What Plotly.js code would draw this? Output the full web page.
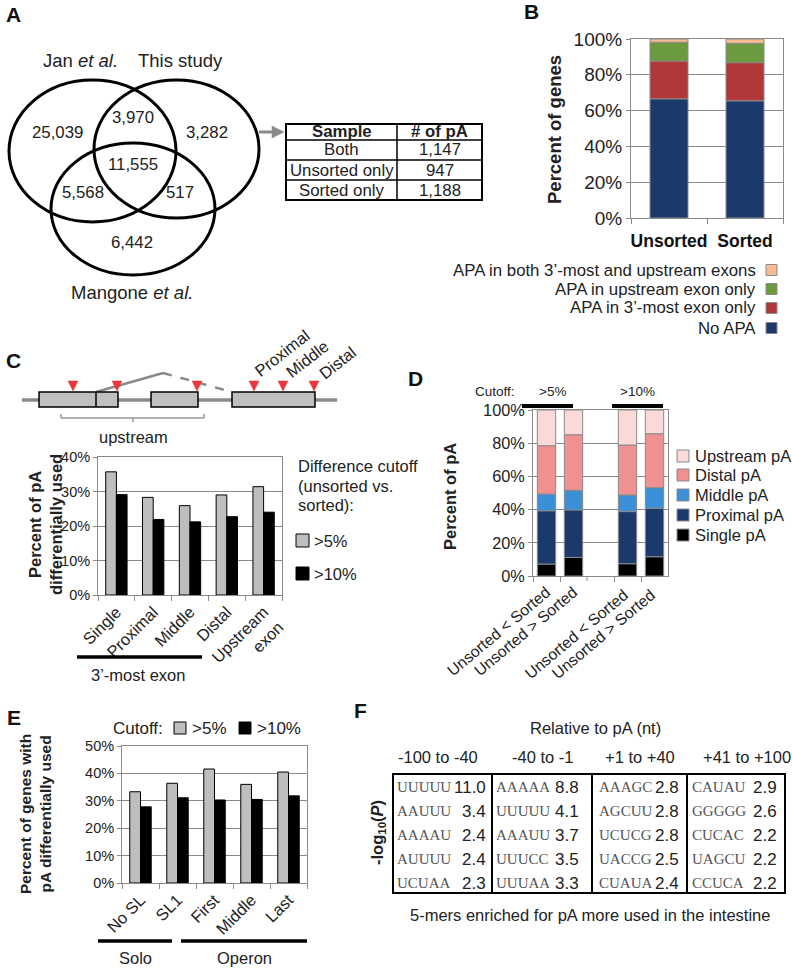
<!DOCTYPE html>
<html><head><meta charset="utf-8">
<script src="https://cdn.plot.ly/plotly-3.0.1.min.js"></script>
<style>html,body{margin:0;padding:0;background:#fff}#chart{width:792px;height:968px}</style>
</head><body><div id="chart"></div>
<script>
// ================= DATA =================
// Panel A – Venn diagram and table
const vennSetLabels = ['Jan <i>et al.</i>', 'This study', 'Mangone <i>et al.</i>'];
const vennRegionCounts = ['25,039', '3,970', '3,282', '11,555', '5,568', '517', '6,442'];
const tableAHeader = ['Sample', '# of pA'];
const tableASamples = ['Both', 'Unsorted only', 'Sorted only'];
const tableACounts = ['1,147', '947', '1,188'];

// Panel B – percent of genes (stacked)
const bCategories = ['Unsorted', 'Sorted'];
const bSeriesNames = ['No APA', 'APA in 3’-most exon only', 'APA in upstream exon only', 'APA in both 3’-most and upstream exons'];
const bNoAPA = [66.6, 65.5];
const b3MostOnly = [21.1, 21.3];
const bUpstreamOnly = [10.5, 10.8];
const bBoth = [1.8, 2.4];

// Panel C – percent of pA differentially used
const cCategories = ['Single', 'Proximal', 'Middle', 'Distal', 'Upstream<br>exon'];
const cSeriesNames = ['>5%', '>10%'];
const cGt5 = [35.7, 28.3, 25.9, 29.0, 31.4];
const cGt10 = [29.1, 21.9, 21.2, 22.7, 24.0];

// Panel D – percent of pA (stacked)
const dCategories = ['Unsorted &lt; Sorted', 'Unsorted &gt; Sorted', 'gap', 'Unsorted &lt; Sorted ', 'Unsorted &gt; Sorted '];
const dBarCategories = [dCategories[0], dCategories[1], dCategories[3], dCategories[4]];
const dSeriesNames = ['Single pA', 'Proximal pA', 'Middle pA', 'Distal pA', 'Upstream pA'];
const dSingle = [7.2, 11.2, 7.4, 11.6];
const dProximal = [32.1, 28.6, 31.4, 29.2];
const dMiddle = [10.1, 11.8, 10.0, 12.4];
const dDistal = [29.1, 33.5, 30.1, 32.5];
const dUpstream = [21.5, 14.9, 21.1, 14.3];
const dCutoffs = ['>5%', '>10%'];

// Panel E – percent of genes with pA differentially used
const eCategories = ['No SL', 'SL1', 'First', 'Middle', 'Last'];
const eGt5 = [33.3, 36.4, 41.6, 36.0, 40.5];
const eGt10 = [27.8, 31.1, 30.3, 30.5, 31.8];
const eGroups = ['Solo', 'Operon'];

// Panel F – enriched 5-mers
const fColumns = ['-100 to -40', '-40 to -1', '+1 to +40', '+41 to +100'];
const fMotifsCol1 = ['UUUUU', 'AAUUU', 'AAAAU', 'AUUUU', 'UCUAA'];
const fScoresCol1 = ['11.0', '3.4', '2.4', '2.4', '2.3'];
const fMotifsCol2 = ['AAAAA', 'UUUUU', 'AAAUU', 'UUUCC', 'UUUAA'];
const fScoresCol2 = ['8.8', '4.1', '3.7', '3.5', '3.3'];
const fMotifsCol3 = ['AAAGC', 'AGCUU', 'UCUCG', 'UACCG', 'CUAUA'];
const fScoresCol3 = ['2.8', '2.8', '2.8', '2.5', '2.4'];
const fMotifsCol4 = ['CAUAU', 'GGGGG', 'CUCAC', 'UAGCU', 'CCUCA'];
const fScoresCol4 = ['2.9', '2.6', '2.2', '2.2', '2.2'];

// ================= HELPERS =================
const W = 792, H = 968;
const X = p => p / W;
const Y = p => 1 - p / H;
const FONT = '"Liberation Sans", Arial, Helvetica, sans-serif';
const SERIF = '"Liberation Serif", "Times New Roman", serif';
const TXT = '#222';
const GRID = '#8a8a8a';

const annotations = [];
const shapes = [];
function txt(text, x, y, size, opts) {
  const a = {xref: 'paper', yref: 'paper', x: X(x), y: Y(y), text: text, showarrow: false,
    xanchor: 'center', yanchor: 'middle', font: {family: FONT, size: size, color: TXT}};
  if (opts) { for (const k in opts) { if (k === 'font') Object.assign(a.font, opts.font); else a[k] = opts[k]; } }
  annotations.push(a);
}
function rect(x0, y0, x1, y1, fill, lc, lw) {
  shapes.push({type: 'rect', xref: 'paper', yref: 'paper', x0: X(x0), x1: X(x1), y0: Y(y1), y1: Y(y0),
    fillcolor: fill, line: {color: lc, width: lw}});
}
function seg(x0, y0, x1, y1, color, w, dash) {
  shapes.push({type: 'line', xref: 'paper', yref: 'paper', x0: X(x0), x1: X(x1), y0: Y(y0), y1: Y(y1),
    line: {color: color, width: w, dash: dash || 'solid'}});
}
function ellipse(x0, y0, x1, y1, color, w) {
  shapes.push({type: 'circle', xref: 'paper', yref: 'paper', x0: X(x0), x1: X(x1), y0: Y(y1), y1: Y(y0),
    line: {color: color, width: w}});
}
function poly(pts, color) {
  shapes.push({type: 'path', xref: 'paper', yref: 'paper',
    path: 'M ' + pts.map(p => X(p[0]) + ' ' + Y(p[1])).join(' L ') + ' Z',
    fillcolor: color, line: {color: color, width: 0.5}});
}
function stackBases(series) {
  const bases = []; let acc = series[0].map(() => 0);
  for (const s of series) { bases.push(acc.slice()); acc = acc.map((v, i) => v + s[i]); }
  return bases;
}
function yAxis(domainPx, range, dtick, size) {
  return {domain: [Y(domainPx[1]), Y(domainPx[0])], range: range, dtick: dtick, ticksuffix: '%',
    showgrid: true, gridcolor: GRID, gridwidth: 1, zeroline: false,
    showline: true, linecolor: GRID, linewidth: 1, mirror: true,
    ticks: 'outside', ticklen: 4, tickcolor: GRID,
    tickfont: {family: FONT, size: size, color: TXT}, fixedrange: true};
}
function xAxis(domainPx, size, angle, extra) {
  const a = {domain: [X(domainPx[0]), X(domainPx[1])], type: 'category', tickson: 'boundaries',
    showgrid: false, zeroline: false, showline: true, linecolor: GRID, linewidth: 1, mirror: true,
    ticks: 'outside', ticklen: 5, tickcolor: GRID, tickangle: angle,
    tickfont: {family: FONT, size: size, color: TXT}, fixedrange: true};
  return Object.assign(a, extra || {});
}

// ================= TRACES =================
const traces = [];

// B
const bColors = ['#1B3A6B', '#B03838', '#6B9B3E', '#F8BC91'];
const bSeries = [bNoAPA, b3MostOnly, bUpstreamOnly, bBoth];
const bBases = stackBases(bSeries);
bSeries.forEach((s, i) => traces.push({type: 'bar', x: bCategories, y: s, base: bBases[i], name: bSeriesNames[i],
  xaxis: 'x', yaxis: 'y', width: 0.5, marker: {color: bColors[i], line: {color: '#8a8a8a', width: 1}},
  showlegend: false, hoverinfo: 'skip'}));

// C
traces.push({type: 'bar', x: cCategories, y: cGt5, name: cSeriesNames[0], xaxis: 'x2', yaxis: 'y2',
  offset: -0.29, width: 0.29, marker: {color: '#BDBEC0', line: {color: '#000', width: 1}}, showlegend: false, hoverinfo: 'skip'});
traces.push({type: 'bar', x: cCategories, y: cGt10, name: cSeriesNames[1], xaxis: 'x2', yaxis: 'y2',
  offset: 0, width: 0.29, marker: {color: '#000', line: {color: '#000', width: 1}}, showlegend: false, hoverinfo: 'skip'});

// D
const dColors = ['#000000', '#1B3A6B', '#3A8FD6', '#F09191', '#FBD9D9'];
const dSeries = [dSingle, dProximal, dMiddle, dDistal, dUpstream];
const dBases = stackBases(dSeries);
dSeries.forEach((s, i) => traces.push({type: 'bar', x: dBarCategories, y: s, base: dBases[i], name: dSeriesNames[i],
  xaxis: 'x3', yaxis: 'y3', width: 0.68, marker: {color: dColors[i], line: {color: '#8a8a8a', width: 1}},
  showlegend: false, hoverinfo: 'skip'}));

// E
traces.push({type: 'bar', x: eCategories, y: eGt5, name: '>5%', xaxis: 'x4', yaxis: 'y4',
  offset: -0.29, width: 0.29, marker: {color: '#BDBEC0', line: {color: '#000', width: 1}}, showlegend: false, hoverinfo: 'skip'});
traces.push({type: 'bar', x: eCategories, y: eGt10, name: '>10%', xaxis: 'x4', yaxis: 'y4',
  offset: 0, width: 0.29, marker: {color: '#000', line: {color: '#000', width: 1}}, showlegend: false, hoverinfo: 'skip'});

// ================= ANNOTATIONS / SHAPES =================
// panel letters
[['A', 13, 14], ['B', 531, 12], ['C', 13, 360], ['D', 415, 378], ['E', 14, 717], ['F', 360, 710]]
  .forEach(l => txt('<b>' + l[0] + '</b>', l[1], l[2], 21, {font: {color: '#111'}}));

// --- A: Venn ---
const vennCircles = [[9, 80, 176, 222], [94, 80, 259, 218], [51, 143, 215, 275]];
vennCircles.forEach(c => ellipse(c[0], c[1], c[2], c[3], '#000', 3));
const vennLabelPos = [[80, 60], [180, 60], [132, 293]];
vennSetLabels.forEach((t, i) => txt(t, vennLabelPos[i][0], vennLabelPos[i][1], 18.5));
const vennCountPos = [[57, 133], [133, 117], [207, 133], [133, 164], [83, 192], [180, 192], [132, 243]];
vennRegionCounts.forEach((t, i) => txt(t, vennCountPos[i][0], vennCountPos[i][1], 16.8));
// arrow
seg(259, 132, 274, 132, '#8a8a8a', 3);
poly([[272, 126], [284, 132], [272, 138]], '#8a8a8a');
// table A
rect(286, 124, 482, 200, 'rgba(0,0,0,0)', '#000', 2);
[140, 160, 180].forEach(y => seg(286, y, 482, y, '#000', 1.5));
seg(397, 124, 397, 200, '#000', 1.5);
txt('<b>' + tableAHeader[0] + '</b>', 341.5, 131, 16.8);
txt('<b>' + tableAHeader[1] + '</b>', 439.5, 131, 16.8);
tableASamples.forEach((t, i) => txt(t, 341.5, 150 + 20 * i, 16.8));
tableACounts.forEach((t, i) => txt(t, 439.5, 150 + 20 * i, 16.8));

// --- B ---
txt('<b>Percent of genes</b>', 555, 130, 18.5, {textangle: -90});
const bLegendY = [328, 308, 289, 270];
bSeriesNames.forEach((n, i) => {
  txt(n, 758, bLegendY[i], 16.8, {xanchor: 'right'});
  rect(766, bLegendY[i] - 5.5, 777, bLegendY[i] + 5.5, bColors[i], '#8a8a8a', 1);
});

// --- C diagram ---
seg(22, 400, 337, 400, '#8a8a8a', 3.5);
seg(96, 392, 163, 373, '#8a8a8a', 2.5);
seg(163, 373, 232, 392, '#8a8a8a', 2.5, 'dash');
rect(39, 392, 118, 407, '#BEBFC1', '#000', 1.5);
seg(96, 392, 96, 407, '#000', 1.5);
rect(151, 392, 198, 407, '#BEBFC1', '#000', 1.5);
rect(232, 392, 315, 407, '#BEBFC1', '#000', 1.5);
[73, 117, 197, 254, 283, 314].forEach(x => poly([[x - 5, 381], [x + 5, 381], [x, 391]], '#E8383D'));
seg(61, 418, 204, 418, '#999', 1.5);
seg(61, 414, 61, 418, '#999', 1.5);
seg(204, 414, 204, 418, '#999', 1.5);
seg(133, 418, 133, 422, '#999', 1.5);
txt('upstream', 133, 437, 16.5);
txt('Proximal', 282, 353, 16.5, {textangle: -38});
txt('Middle', 307, 359, 16.5, {textangle: -38});
txt('Distal', 337, 363, 16.5, {textangle: -38});
// C axis title + legend + group
txt('<b>Percent of pA<br>differentially used</b>', 45, 525, 16.5, {textangle: -90});
txt('Difference cutoff', 296, 466, 16.5, {xanchor: 'left'});
txt('(unsorted vs.', 296, 486, 16.5, {xanchor: 'left'});
txt('sorted):', 296, 505, 16.5, {xanchor: 'left'});
rect(296, 534, 309, 547, '#BDBEC0', '#000', 1);
txt(cSeriesNames[0], 312, 541, 16.5, {xanchor: 'left'});
rect(296, 567, 309, 580, '#000', '#000', 1);
txt(cSeriesNames[1], 312, 574, 16.5, {xanchor: 'left'});
seg(77, 657, 202, 657, '#000', 3.5);
txt('3’-most exon', 138, 675, 16.5);

// --- D ---
txt('<b>Percent of pA</b>', 450, 497, 16.5, {textangle: -90});
txt('Cutoff:', 495, 391, 13.5);
txt(dCutoffs[0], 552, 391, 13.5);
txt(dCutoffs[1], 637, 391, 13.5);
seg(522, 406, 573, 406, '#000', 4);
seg(612, 406, 663, 406, '#000', 4);
// boundary tick between the ">5%" columns and the empty gap (tickvals skip the gap category)
shapes.push({type: 'line', xref: 'x3', yref: 'paper', x0: 1.5, x1: 1.5, y0: Y(576), y1: Y(581),
  line: {color: GRID, width: 1}});
const dLegendY = [535, 515, 495, 475, 456];
dSeriesNames.forEach((n, i) => {
  rect(677, dLegendY[i] - 6, 689, dLegendY[i] + 6, dColors[i], '#8a8a8a', 1);
  txt(n, 693, dLegendY[i], 16.5, {xanchor: 'left'});
});

// --- E ---
txt('<b>Percent of genes with<br>pA differentially used</b>', 35, 814, 15.5, {textangle: -90});
txt('Cutoff:', 138, 728, 17);
rect(174, 722, 186, 734, '#BDBEC0', '#000', 1);
txt('>5%', 190, 728, 17, {xanchor: 'left'});
rect(239, 722, 251, 734, '#000', '#000', 1);
txt('>10%', 255, 728, 17, {xanchor: 'left'});
seg(98, 941, 172, 941, '#000', 3.5);
seg(181, 941, 307, 941, '#000', 3.5);
txt(eGroups[0], 135, 958, 16.5);
txt(eGroups[1], 244, 958, 16.5);

// --- F ---
txt('Relative to pA (nt)', 595, 728, 16.5);
const fHeadX = [438, 542, 640, 747];
fColumns.forEach((c, i) => txt(c, fHeadX[i], 757, 16.5));
rect(393, 774, 785, 893, 'rgba(0,0,0,0)', '#000', 2);
[492, 592, 687].forEach(x => seg(x, 774, x, 893, '#000', 2));
const fMotifs = [fMotifsCol1, fMotifsCol2, fMotifsCol3, fMotifsCol4];
const fScores = [fScoresCol1, fScoresCol2, fScoresCol3, fScoresCol4];
const fMotifX = [395, 494, 597, 690];
const fScoreX = [488, 581, 681, 779];
const fRowY = [787, 811, 835, 859, 883];
fMotifs.forEach((col, c) => col.forEach((m, r) => {
  txt(m, fMotifX[c], fRowY[r], 15, {xanchor: 'left', font: {family: SERIF, color: '#555'}});
  txt(fScores[c][r], fScoreX[c], fRowY[r], 17, {xanchor: 'right'});
}));
txt('<b>-log<sub>10</sub>(<i>P</i>)</b>', 378, 833, 16.5, {textangle: -90});
txt('5-mers enriched for pA more used in the intestine', 590, 915, 16.5);

// ================= LAYOUT =================
const layout = {
  width: W, height: H, margin: {l: 0, r: 0, t: 0, b: 0, pad: 0},
  paper_bgcolor: '#fff', plot_bgcolor: 'rgba(0,0,0,0)',
  barmode: 'overlay', showlegend: false,
  font: {family: FONT, color: TXT},
  xaxis: xAxis([631, 783], 17.5, 0, {anchor: 'y', ticklabelstandoff: 7,
    tickfont: {family: FONT, size: 17.5, color: '#111', weight: 'bold'}}),
  yaxis: Object.assign(yAxis([39, 218], [0, 100], 20, 19), {anchor: 'x'}),
  xaxis2: xAxis([98, 282], 16.5, -45, {anchor: 'y2'}),
  yaxis2: Object.assign(yAxis([457, 595], [0, 40], 10, 14.5), {anchor: 'x2'}),
  xaxis3: xAxis([533, 668], 15.8, -40, {anchor: 'y3', categoryorder: 'array', categoryarray: dCategories,
    range: [-0.5, 4.5], tickmode: 'array', tickvals: dBarCategories}),
  yaxis3: Object.assign(yAxis([410, 576], [0, 100], 20, 16.3), {anchor: 'x3'}),
  xaxis4: xAxis([122, 307], 16.5, -45, {anchor: 'y4'}),
  yaxis4: Object.assign(yAxis([746, 883], [0, 50], 10, 14.5), {anchor: 'x4'}),
  annotations: annotations, shapes: shapes
};
Plotly.newPlot('chart', traces, layout, {staticPlot: true, displayModeBar: false});
</script>
</body></html>
